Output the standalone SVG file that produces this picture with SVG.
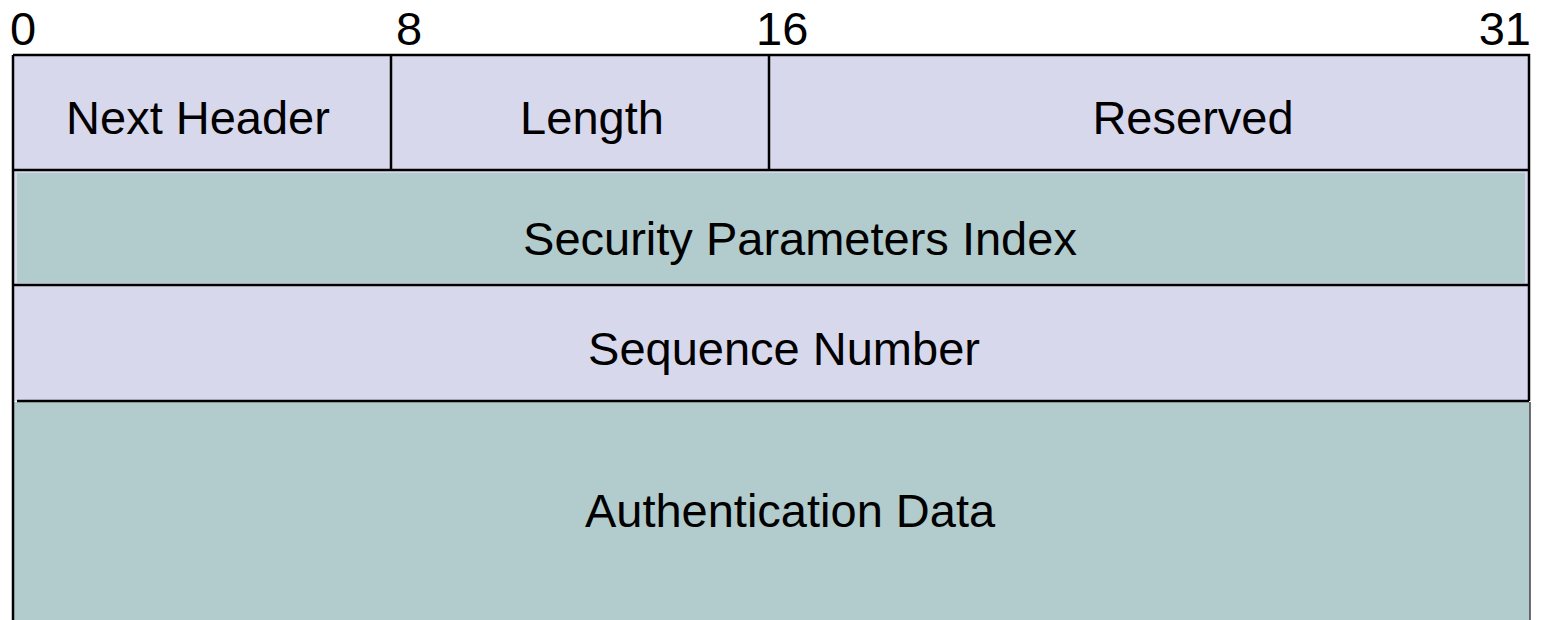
<svg xmlns="http://www.w3.org/2000/svg" width="1549" height="620" viewBox="0 0 1549 620">
  <style>
    .lav { fill: #d8d8ec; }
    .teal { fill: #b2cbcc; }
    .edge { stroke: #000; stroke-width: 2.5; fill: none; }
    .thin { stroke: #444; stroke-width: 1.5; fill: none; }
    text { font-family: "Liberation Sans", Arial, sans-serif; font-size: 47px; fill: #000; }
    .mid { text-anchor: middle; }
  </style>
  <rect width="1549" height="620" fill="#fff"/>

  <!-- bit offsets -->
  <g id="bit-scale">
    <text x="10" y="45" font-size="46">0</text>
    <text x="396" y="45" font-size="46">8</text>
    <text x="756" y="45" font-size="46">16</text>
    <text x="1531" y="45" font-size="46" text-anchor="end">31</text>
  </g>

  <!-- word 0: Next Header | Length | Reserved -->
  <g id="row-header">
    <rect class="lav" x="13" y="55" width="1516" height="115"/>
    <g id="next-header">
      <text class="mid" x="198" y="134">Next Header</text>
    </g>
    <g id="length">
      <text class="mid" x="592" y="134">Length</text>
    </g>
    <g id="reserved">
      <text class="mid" x="1193" y="134">Reserved</text>
    </g>
  </g>

  <!-- word 1: SPI -->
  <g id="spi">
    <rect class="lav" x="13" y="170" width="1516" height="115"/>
    <rect class="teal" x="17" y="173" width="1508" height="110"/>
    <text class="mid" x="800" y="255" font-size="46">Security Parameters Index</text>
  </g>

  <!-- word 2: sequence number -->
  <g id="sequence-number">
    <rect class="lav" x="13" y="285" width="1516" height="116"/>
    <text class="mid" x="784" y="365">Sequence Number</text>
  </g>

  <!-- variable-length ICV -->
  <g id="auth-data">
    <rect class="teal" x="14" y="402" width="1516" height="218"/>
    <text class="mid" x="790" y="527">Authentication Data</text>
  </g>

  <!-- field borders -->
  <g id="borders">
    <path class="edge" d="M13 55 H1529 V401 M13 55 V620"/>
    <path class="edge" d="M391 55 V170 M769 55 V170"/>
    <path class="edge" d="M13 170 H1529 M13 285 H1529 M17 401 H1529"/>
    <path class="thin" d="M1530 402 V620"/>
  </g>
</svg>
